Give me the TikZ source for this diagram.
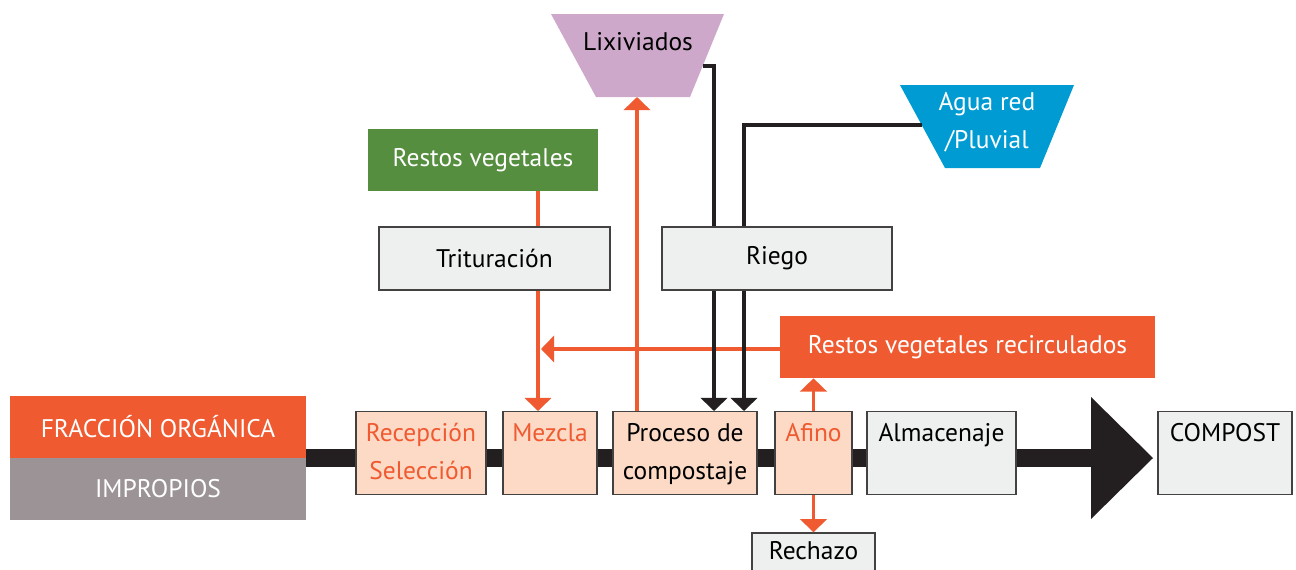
\documentclass[tikz,border=0pt]{standalone}
\usepackage{fontspec}
\setmainfont{PT Sans}
\usetikzlibrary{arrows.meta}
\definecolor{naranja}{HTML}{F05A30}
\definecolor{salmon}{HTML}{FDDAC6}
\definecolor{grisclaro}{HTML}{EEF0EF}
\definecolor{grisimp}{HTML}{9C9396}
\definecolor{verde}{HTML}{568E40}
\definecolor{lila}{HTML}{CEA8CB}
\definecolor{azul}{HTML}{009BD2}
\definecolor{negro}{HTML}{231F20}
\tikzset{
  caja/.style={draw=negro!85,line width=0.8pt,minimum height=1.64cm,inner sep=2pt,align=center},
  cajagris/.style={caja,fill=grisclaro,text=black},
  cajasalmon/.style={caja,fill=salmon,text=naranja},
  bloque/.style={minimum height=1.24cm,inner sep=2pt,text=white},
  flecha/.style={-{Triangle[width=15pt,length=7.5pt]},line width=2.2pt},
  linea/.style={line width=2.2pt}
}
\begin{document}
\begin{tikzpicture}[x=0.02cm,y=-0.02cm,font=\fontsize{14.5}{21.5}\selectfont]
\useasboundingbox (0,0) rectangle (1296,569);
% linea principal
\fill[negro] (306,449) rectangle (1091,467);
\fill[negro] (1091,397) -- (1153,458) -- (1091,519) -- cycle;
% entradas
\node[bloque,fill=naranja,minimum width=5.92cm] (fo) at (158,427) {FRACCIÓN ORGÁNICA};
\node[bloque,fill=grisimp,minimum width=5.92cm] (imp) at (158,489) {IMPROPIOS};
% etapas
\node[cajasalmon,minimum width=2.6cm] (recep) at (421,453) {\strut Recepción\\\strut Selección};
\node[cajasalmon,minimum width=1.88cm] (mezcla) at (550,453) {\strut Mezcla\\\strut};
\node[cajasalmon,text=black,minimum width=2.88cm] (proceso) at (685,453) {\strut Proceso de\\\strut compostaje};
\node[cajasalmon,minimum width=1.54cm] (afino) at (813.5,453) {\strut Afino\\\strut};
\node[cajagris,minimum width=2.98cm] (almac) at (941.5,453) {\strut Almacenaje\\\strut};
\node[cajagris,minimum width=2.68cm] (compost) at (1225,453) {\strut COMPOST\\\strut};
\node[cajagris,minimum width=2.46cm,minimum height=1.0cm] (rechazo) at (813.5,558) {\raisebox{8pt}{Rechazo}};
% arriba
\node[bloque,fill=naranja,minimum width=7.5cm] (recirc) at (967.5,347) {Restos vegetales recirculados};
\node[bloque,fill=verde,minimum width=4.6cm] (rv) at (483,160) {Restos vegetales};
\node[cajagris,minimum width=4.62cm,minimum height=1.26cm] (trit) at (494.5,258.5) {Trituración};
\node[cajagris,minimum width=4.6cm,minimum height=1.26cm] (riego) at (777,258.5) {Riego};
\fill[lila] (551,14) -- (724,14) -- (690,97) -- (596,97) -- cycle;
\node (lix) at (638,42) {Lixiviados};
\fill[azul] (900,85) -- (1074,85) -- (1040,168) -- (945,168) -- cycle;
\node[text=white,align=center] (agua) at (987,122) {Agua red\\/Pluvial};
% conexiones
\coordinate (xt) at (538,0);
\coordinate (xl) at (637,0);
\coordinate (xa) at (714,0);
\coordinate (xb) at (744,0);
\coordinate (lixS) at (643,97);
\coordinate (lixR) at (703,66);
\coordinate (aguaL) at (922,125);
\coordinate (recircfin) at (541,349);
\draw[linea,naranja] (rv.south -| xt) -- (trit.north -| xt);
\draw[flecha,naranja] (trit.south -| xt) -- (mezcla.north -| xt);
\draw[flecha,naranja] (recirc.west |- recircfin) -- (recircfin);
\draw[flecha,naranja] (proceso.north -| xl) -- (lixS -| xl);
\draw[linea,negro,line width=1.8pt] (lixR) -| (riego.north -| xa);
\draw[linea,negro,line width=1.8pt] (aguaL) -| (riego.north -| xb);
\draw[flecha,negro] (riego.south -| xa) -- (proceso.north -| xa);
\draw[flecha,negro] (riego.south -| xb) -- (proceso.north -| xb);
\draw[flecha,naranja] (afino.north) -- (recirc.south -| afino.north);
\draw[flecha,naranja] (afino.south) -- (rechazo.north);
\end{tikzpicture}
\end{document}
